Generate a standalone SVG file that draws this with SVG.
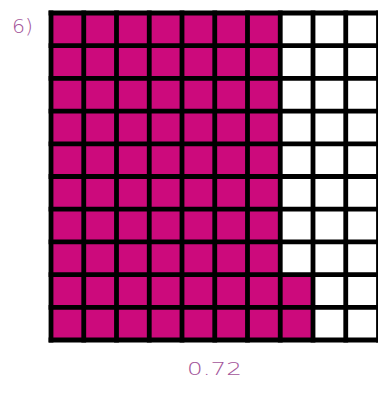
<svg xmlns="http://www.w3.org/2000/svg" width="378" height="395" viewBox="0 0 378 395">
<style>
.f{fill:#cc0a7c}
.g{stroke:#000;stroke-width:4.8;fill:none;stroke-linecap:square}
.t{font-family:"DejaVu Sans","Liberation Sans",sans-serif;font-weight:200;fill:#a3559a}
</style>
<rect width="378" height="395" fill="#fff"/>
<g id="fill">
<rect class="f" x="51" y="13" width="229.25" height="327"/>
<rect class="f" x="280" y="274.6" width="32.75" height="65.4"/>
</g>
<g id="grid">
<path class="g" d="M51 13H379.5M51 45.7H379.5M51 78.4H379.5M51 111.1H379.5M51 143.8H379.5M51 176.5H379.5M51 209.2H379.5M51 241.9H379.5M51 274.6H379.5M51 307.3H379.5M51 340H379.5"/>
<path class="g" d="M51 13V340M83.75 13V340M116.5 13V340M149.25 13V340M182 13V340M214.75 13V340M247.5 13V340M280.25 13V340M313 13V340M345.75 13V340M378.5 13V340"/>
</g>
<g id="labels">
<text class="t" x="12" y="33" font-size="20" textLength="21" lengthAdjust="spacingAndGlyphs">6)</text>
<text class="t" x="187" y="375" font-size="18" textLength="55" lengthAdjust="spacingAndGlyphs">0.72</text>
</g>
</svg>
